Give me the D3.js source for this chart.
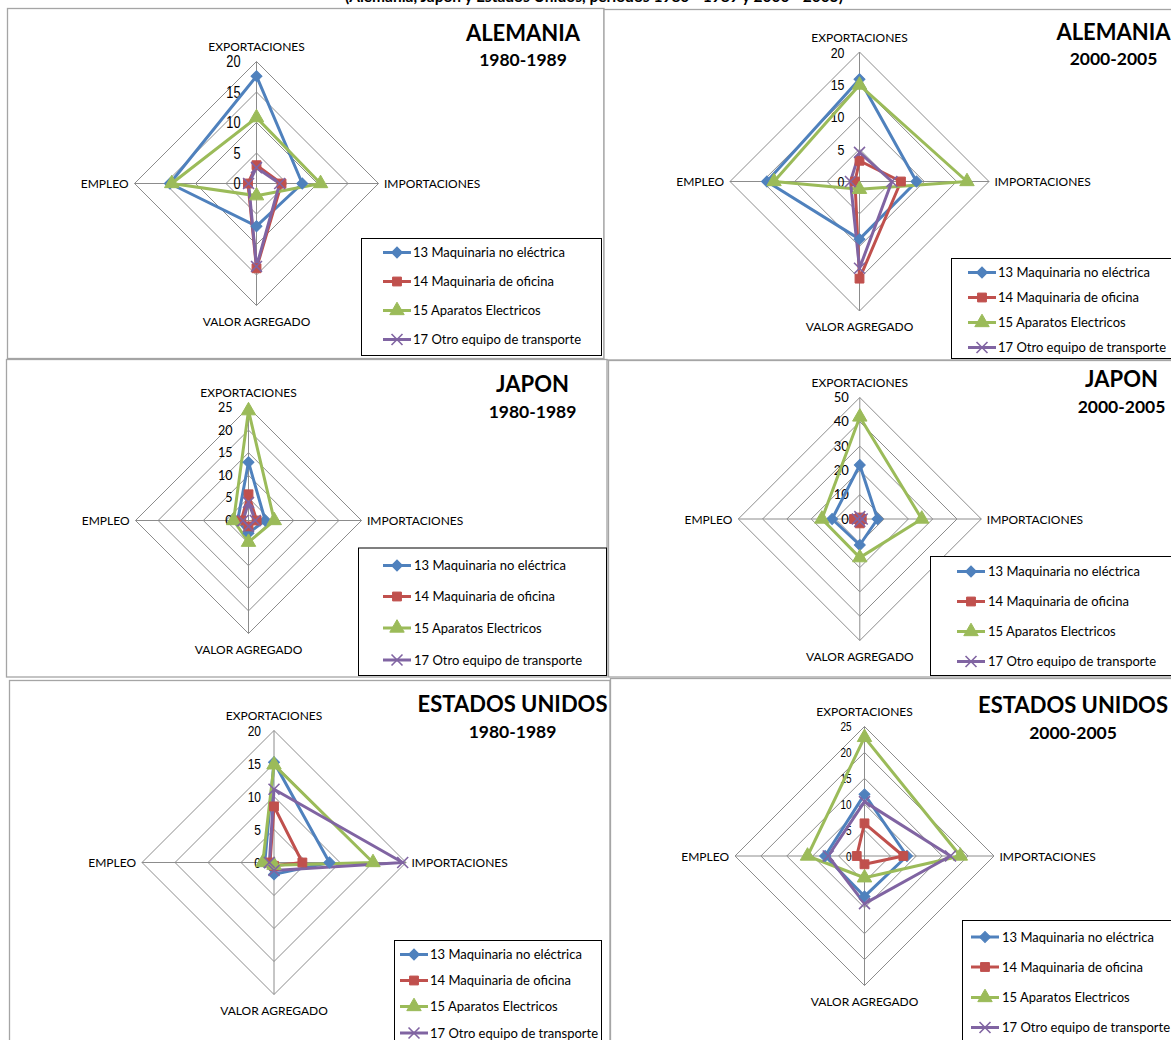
<!DOCTYPE html>
<html>
<head>
<meta charset="utf-8">
<script src="https://cdn.jsdelivr.net/npm/d3@7"></script>
<style>
  body { margin: 0; background: #fff; }
  svg { display: block; }
</style>
</head>
<body>
<svg id="chart" width="1171" height="1040"></svg>
<script>
// ---- data ----
const heading = "(Alemania, Japon y Estados Unidos, periodos 1980 - 1989 y 2000 - 2005)";
const axisNames = ["EXPORTACIONES", "IMPORTACIONES", "VALOR AGREGADO", "EMPLEO"];
const seriesNames = [
  "13 Maquinaria no eléctrica",
  "14 Maquinaria de oficina",
  "15 Aparatos Electricos",
  "17 Otro equipo de transporte"
];
const seriesColors = ["#4F81BD", "#C0504D", "#9BBB59", "#8064A2"];

// each row: exportaciones, importaciones, valor agregado, empleo
const alemania1980 = [
  [17.6, 7.5, 7.0, 14.2],
  [3.0, 4.1, 13.9, 1.4],
  [10.8, 10.5, 2.0, 13.9],
  [2.6, 3.8, 13.6, 1.3]
];
const alemania2000 = [
  [15.8, 8.8, 8.9, 14.3],
  [3.2, 6.4, 15.0, 0.7],
  [14.9, 16.6, 1.2, 13.2],
  [4.5, 5.0, 13.4, 1.4]
];
const japon1980 = [
  [12.9, 3.7, 2.8, 2.4],
  [5.8, 1.8, 1.3, 1.6],
  [24.3, 5.7, 4.8, 3.3],
  [4.0, 1.5, 1.3, 1.2]
];
const japon2000 = [
  [22.2, 7.3, 10.7, 11.4],
  [0.6, 0.8, 1.8, 2.4],
  [42.0, 25.5, 15.9, 15.6],
  [1.0, 1.0, 1.0, 1.0]
];
const eeuu1980 = [
  [15.2, 8.4, 1.8, 1.4],
  [8.5, 4.3, 0.5, 0.6],
  [14.8, 15.0, 0.4, 1.7],
  [11.1, 19.5, 1.2, 0.7]
];
const eeuu2000 = [
  [11.9, 8.2, 7.8, 7.6],
  [6.3, 7.5, 1.6, 1.5],
  [22.9, 18.5, 4.2, 11.0],
  [10.5, 16.6, 9.2, 7.0]
];

const ticks20 = [0, 5, 10, 15, 20];
const ticks25 = [0, 5, 10, 15, 20, 25];
const ticks50 = [0, 10, 20, 30, 40, 50];

// ---- layout of the six radar panels ----
const panels = [
  { title: "ALEMANIA", period: "1980-1989", values: alemania1980, ticks: ticks20,
    cx: 256.5, cy: 183.5, R: 122, tickFs: 16, narrow: true, tickGap: 16,
    titleX: 523, titleBase: 41, periodBase: 66,
    frame: [7.5, 8.5, 596.5, 350],
    legend: { x: 361.5, y: 238.5, w: 240, h: 117, rows: [252.5, 281.5, 310.5, 339.5], lineX: 383, textX: 413 } },
  { title: "ALEMANIA", period: "2000-2005", values: alemania2000, ticks: ticks20,
    cx: 859.5, cy: 181.5, R: 129.5, tickFs: 15.5, narrow: true, tickGap: 15,
    titleX: 1113.5, titleBase: 40, periodBase: 65,
    frame: [604, 9.5, 580, 350.5],
    legend: { x: 951.5, y: 258.5, w: 240, h: 100, rows: [272.5, 297.5, 322.5, 347.5], lineX: 968, textX: 998 } },
  { title: "JAPON", period: "1980-1989", values: japon1980, ticks: ticks25,
    cx: 248.5, cy: 520.5, R: 113, tickFs: 12.5, narrow: false, tickGap: 16,
    titleX: 532.5, titleBase: 392, periodBase: 418,
    frame: [6.5, 359.5, 600.5, 317.5],
    legend: { x: 358.5, y: 548, w: 248, h: 127.5, rows: [565.5, 596.5, 628, 660], lineX: 383, textX: 414 } },
  { title: "JAPON", period: "2000-2005", values: japon2000, ticks: ticks50,
    cx: 859.8, cy: 519, R: 121.5, tickFs: 13, narrow: false, tickGap: 11,
    titleX: 1121.5, titleBase: 387, periodBase: 412.5,
    frame: [608.5, 360.5, 575, 316.5],
    legend: { x: 930.5, y: 556.5, w: 250, h: 119, rows: [571.5, 601.5, 631.5, 661.5], lineX: 957, textX: 988 } },
  { title: "ESTADOS UNIDOS", period: "1980-1989", values: eeuu1980, ticks: ticks20,
    cx: 274, cy: 862.5, R: 132, tickFs: 15, narrow: true, tickGap: 13,
    titleX: 512.5, titleBase: 711.5, periodBase: 738,
    frame: [9.5, 680.5, 600.5, 370],
    legend: { x: 394.5, y: 940.5, w: 207, h: 110, rows: [954.5, 980.5, 1006.5, 1033], lineX: 400, textX: 430 } },
  { title: "ESTADOS UNIDOS", period: "2000-2005", values: eeuu2000, ticks: ticks25,
    cx: 864.5, cy: 856, R: 129.5, tickFs: 12.5, narrow: true, tickGap: 13,
    titleX: 1073, titleBase: 712.5, periodBase: 739,
    frame: [610.5, 678.5, 575, 370],
    legend: { x: 962.5, y: 920.5, w: 220, h: 130, rows: [937, 967, 997.5, 1027.5], lineX: 971, textX: 1002 } }
];

const labelFont = "Lato, 'Open Sans', sans-serif";
const svg = d3.select("#chart");

// marker shapes: diamond, square, triangle, cross
const crossType = d3.symbolTimes || d3.symbolX || {
  draw(ctx, size) {
    const r = Math.sqrt(size) / 2;
    ctx.moveTo(-r, -r); ctx.lineTo(r, r);
    ctx.moveTo(r, -r); ctx.lineTo(-r, r);
  }
};
const markerDefs = [
  { path: d3.symbol(d3.symbolSquare, 60)(), rotate: 45, filled: true },
  { path: d3.symbol(d3.symbolSquare, 78)(), rotate: 0, filled: true },
  { path: d3.symbol(d3.symbolTriangle, 90)(), rotate: 0, filled: true },
  { path: d3.symbol(crossType, 80)(), rotate: 0, filled: false }
];

function drawMarker(g, si, x, y) {
  const m = markerDefs[si];
  g.append("path")
    .attr("d", m.path)
    .attr("transform", `translate(${x},${y}) rotate(${m.rotate})`)
    .attr("fill", m.filled ? seriesColors[si] : "none")
    .attr("stroke", seriesColors[si])
    .attr("stroke-width", m.filled ? 1 : 1.6);
}

// heading running off the top edge
svg.append("text")
  .attr("x", 594).attr("y", 2)
  .attr("text-anchor", "middle")
  .attr("font-family", labelFont)
  .attr("font-weight", "bold")
  .attr("font-size", 15.5)
  .text(heading);

const angle = d3.scaleLinear().domain([0, axisNames.length]).range([0, 2 * Math.PI]);

panels.forEach(p => {
  const g = svg.append("g");
  const [fx, fy, fw, fh] = p.frame;
  g.append("rect")
    .attr("x", fx).attr("y", fy).attr("width", fw).attr("height", fh)
    .attr("fill", "#fff").attr("stroke", "#a5a5a5").attr("stroke-width", 1.3);

  const maxV = d3.max(p.ticks);
  const r = d3.scaleLinear().domain([0, maxV]).range([0, p.R]);
  const plot = g.append("g").attr("transform", `translate(${p.cx},${p.cy})`);

  // grid rings
  const ring = d3.lineRadial()
    .angle((d, i) => angle(i))
    .radius(d => r(d))
    .curve(d3.curveLinearClosed);
  p.ticks.filter(t => t > 0).forEach(t => {
    plot.append("path")
      .attr("d", ring(axisNames.map(() => t)))
      .attr("fill", "none").attr("stroke", "#8c8c8c").attr("stroke-width", 1);
  });
  // spokes
  axisNames.forEach((a, i) => {
    const [x, y] = d3.pointRadial(angle(i), r(maxV));
    plot.append("line")
      .attr("x1", 0).attr("y1", 0).attr("x2", x).attr("y2", y)
      .attr("stroke", "#8c8c8c").attr("stroke-width", 1);
  });

  // axis category labels
  axisNames.forEach((a, i) => {
    const [x, y] = d3.pointRadial(angle(i), r(maxV));
    const t = plot.append("text")
      .attr("font-family", labelFont).attr("font-size", 12)
      .attr("fill", "#000").text(a);
    if (i === 0) t.attr("x", x).attr("y", y - 10.5).attr("text-anchor", "middle");
    if (i === 1) t.attr("x", x + 5.5).attr("y", y + 4.5).attr("text-anchor", "start");
    if (i === 2) t.attr("x", x).attr("y", y + 20).attr("text-anchor", "middle");
    if (i === 3) t.attr("x", x - 6).attr("y", y + 4.5).attr("text-anchor", "end");
  });

  // value ticks on the vertical axis
  p.ticks.forEach(t => {
    const ty = -r(t);
    const txt = plot.append("text")
      .attr("text-anchor", "end")
      .attr("dy", "0.36em")
      .attr("fill", "#000")
      .text(t);
    if (p.narrow) {
      txt.attr("font-family", "'Liberation Sans', Arial, sans-serif")
        .attr("font-size", p.tickFs)
        .attr("transform", `translate(${-p.tickGap},${ty}) scale(0.8,1)`);
    } else {
      txt.attr("font-family", labelFont)
        .attr("font-size", p.tickFs)
        .attr("transform", `translate(${-p.tickGap},${ty})`);
    }
  });

  // series polygons
  const line = d3.lineRadial()
    .angle((d, i) => angle(i))
    .radius(d => r(d))
    .curve(d3.curveLinearClosed);
  p.values.forEach((vals, si) => {
    plot.append("path")
      .attr("d", line(vals))
      .attr("fill", "none")
      .attr("stroke", seriesColors[si])
      .attr("stroke-width", 3)
      .attr("stroke-linejoin", "round");
  });
  p.values.forEach((vals, si) => {
    vals.forEach((v, i) => {
      const [x, y] = d3.pointRadial(angle(i), r(v));
      drawMarker(plot, si, x, y);
    });
  });

  // panel titles
  g.append("text")
    .attr("x", p.titleX).attr("y", p.titleBase)
    .attr("text-anchor", "middle")
    .attr("font-family", labelFont).attr("font-weight", "bold")
    .attr("font-size", 22).attr("fill", "#000")
    .text(p.title);
  g.append("text")
    .attr("x", p.titleX).attr("y", p.periodBase)
    .attr("text-anchor", "middle")
    .attr("font-family", labelFont).attr("font-weight", "bold")
    .attr("font-size", 17.5).attr("fill", "#000")
    .text(p.period);

  // legend
  const L = p.legend;
  g.append("rect")
    .attr("x", L.x).attr("y", L.y).attr("width", L.w).attr("height", L.h)
    .attr("fill", "#fff").attr("stroke", "#000").attr("stroke-width", 1);
  seriesNames.forEach((name, si) => {
    const ry = L.rows[si];
    g.append("line")
      .attr("x1", L.lineX).attr("x2", L.lineX + 28)
      .attr("y1", ry).attr("y2", ry)
      .attr("stroke", seriesColors[si]).attr("stroke-width", 3);
    drawMarker(g, si, L.lineX + 14, ry);
    g.append("text")
      .attr("x", L.textX).attr("y", ry + 4.5)
      .attr("font-family", labelFont).attr("font-size", 13)
      .attr("fill", "#000")
      .text(name);
  });
});
</script>
</body>
</html>
